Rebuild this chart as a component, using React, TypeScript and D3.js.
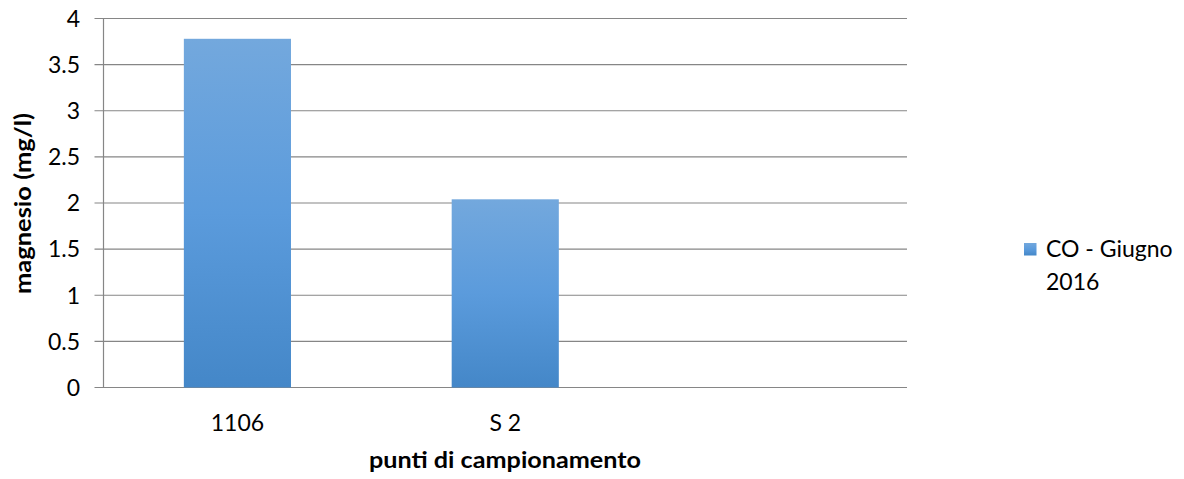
import React from "react";
import * as d3 from "d3";

const categories = ["1106", "S 2", ""];
const seriesName = ["CO - Giugno", "2016"];
const values = [3.78, 2.04, null];
const yTicks = [0, 0.5, 1, 1.5, 2, 2.5, 3, 3.5, 4];

const W = 1184;
const H = 479;
const margin = { left: 103.5, right: 1184 - 907, top: 18.5, bottom: 479 - 387.5 };
const FONT = "Lato, 'Open Sans', sans-serif";

export default function App() {
  const band = d3
    .scaleBand<string>()
    .domain(categories.map((c, i) => String(i)))
    .range([margin.left, W - margin.right]);
  const y = d3.scaleLinear().domain([0, 4]).range([H - margin.bottom, margin.top]);
  const barW = band.bandwidth() * 0.4;

  return (
    <svg width={W} height={H} style={{ position: "absolute", left: 0, top: 0 }}>
      <defs>
        <linearGradient id="barFill" x1="0" y1="0" x2="0" y2="1">
          <stop offset="0%" stopColor="#73a8dd" />
          <stop offset="50%" stopColor="#5b9bdc" />
          <stop offset="100%" stopColor="#4487c8" />
        </linearGradient>
      </defs>
      <rect width={W} height={H} fill="#ffffff" />
      {yTicks.map((t) => (
        <g key={t}>
          <line x1={margin.left - 9} x2={W - margin.right} y1={y(t)} y2={y(t)} stroke="#868686" strokeWidth={1.2} />
          <text x={80} y={y(t)} dy="0.36em" textAnchor="end" fontFamily={FONT} fontSize={23} fill="#000">
            {t}
          </text>
        </g>
      ))}
      <line x1={margin.left} x2={margin.left} y1={margin.top} y2={y(0)} stroke="#868686" strokeWidth={1.2} />
      {values.map((v, i) =>
        v == null ? null : (
          <rect
            key={i}
            x={band(String(i))! + band.bandwidth() / 2 - barW / 2}
            width={barW}
            y={y(v)}
            height={y(0) - y(v)}
            fill="url(#barFill)"
          />
        )
      )}
      {categories.map((c, i) => (
        <text
          key={i}
          x={band(String(i))! + band.bandwidth() / 2}
          y={431}
          textAnchor="middle"
          fontFamily={FONT}
          fontSize={23}
          fill="#000"
        >
          {c}
        </text>
      ))}
      <text
        x={505}
        y={468}
        textAnchor="middle"
        fontFamily={FONT}
        fontSize={23}
        fontWeight="bold"
        fill="#000"
        textLength={272}
        lengthAdjust="spacingAndGlyphs"
      >
        punti di campionamento
      </text>
      <text
        transform={`translate(31,203.5) rotate(-90)`}
        textAnchor="middle"
        fontFamily={FONT}
        fontSize={23}
        fontWeight="bold"
        fill="#000"
        textLength={181}
        lengthAdjust="spacingAndGlyphs"
      >
        magnesio (mg/l)
      </text>
      <rect x={1024} y={243} width={12.5} height={12.5} fill="url(#barFill)" />
      <text x={1046} y={257} fontFamily={FONT} fontSize={23} fill="#000">
        {seriesName[0]}
      </text>
      <text x={1046} y={290} fontFamily={FONT} fontSize={23} fill="#000">
        {seriesName[1]}
      </text>
    </svg>
  );
}
